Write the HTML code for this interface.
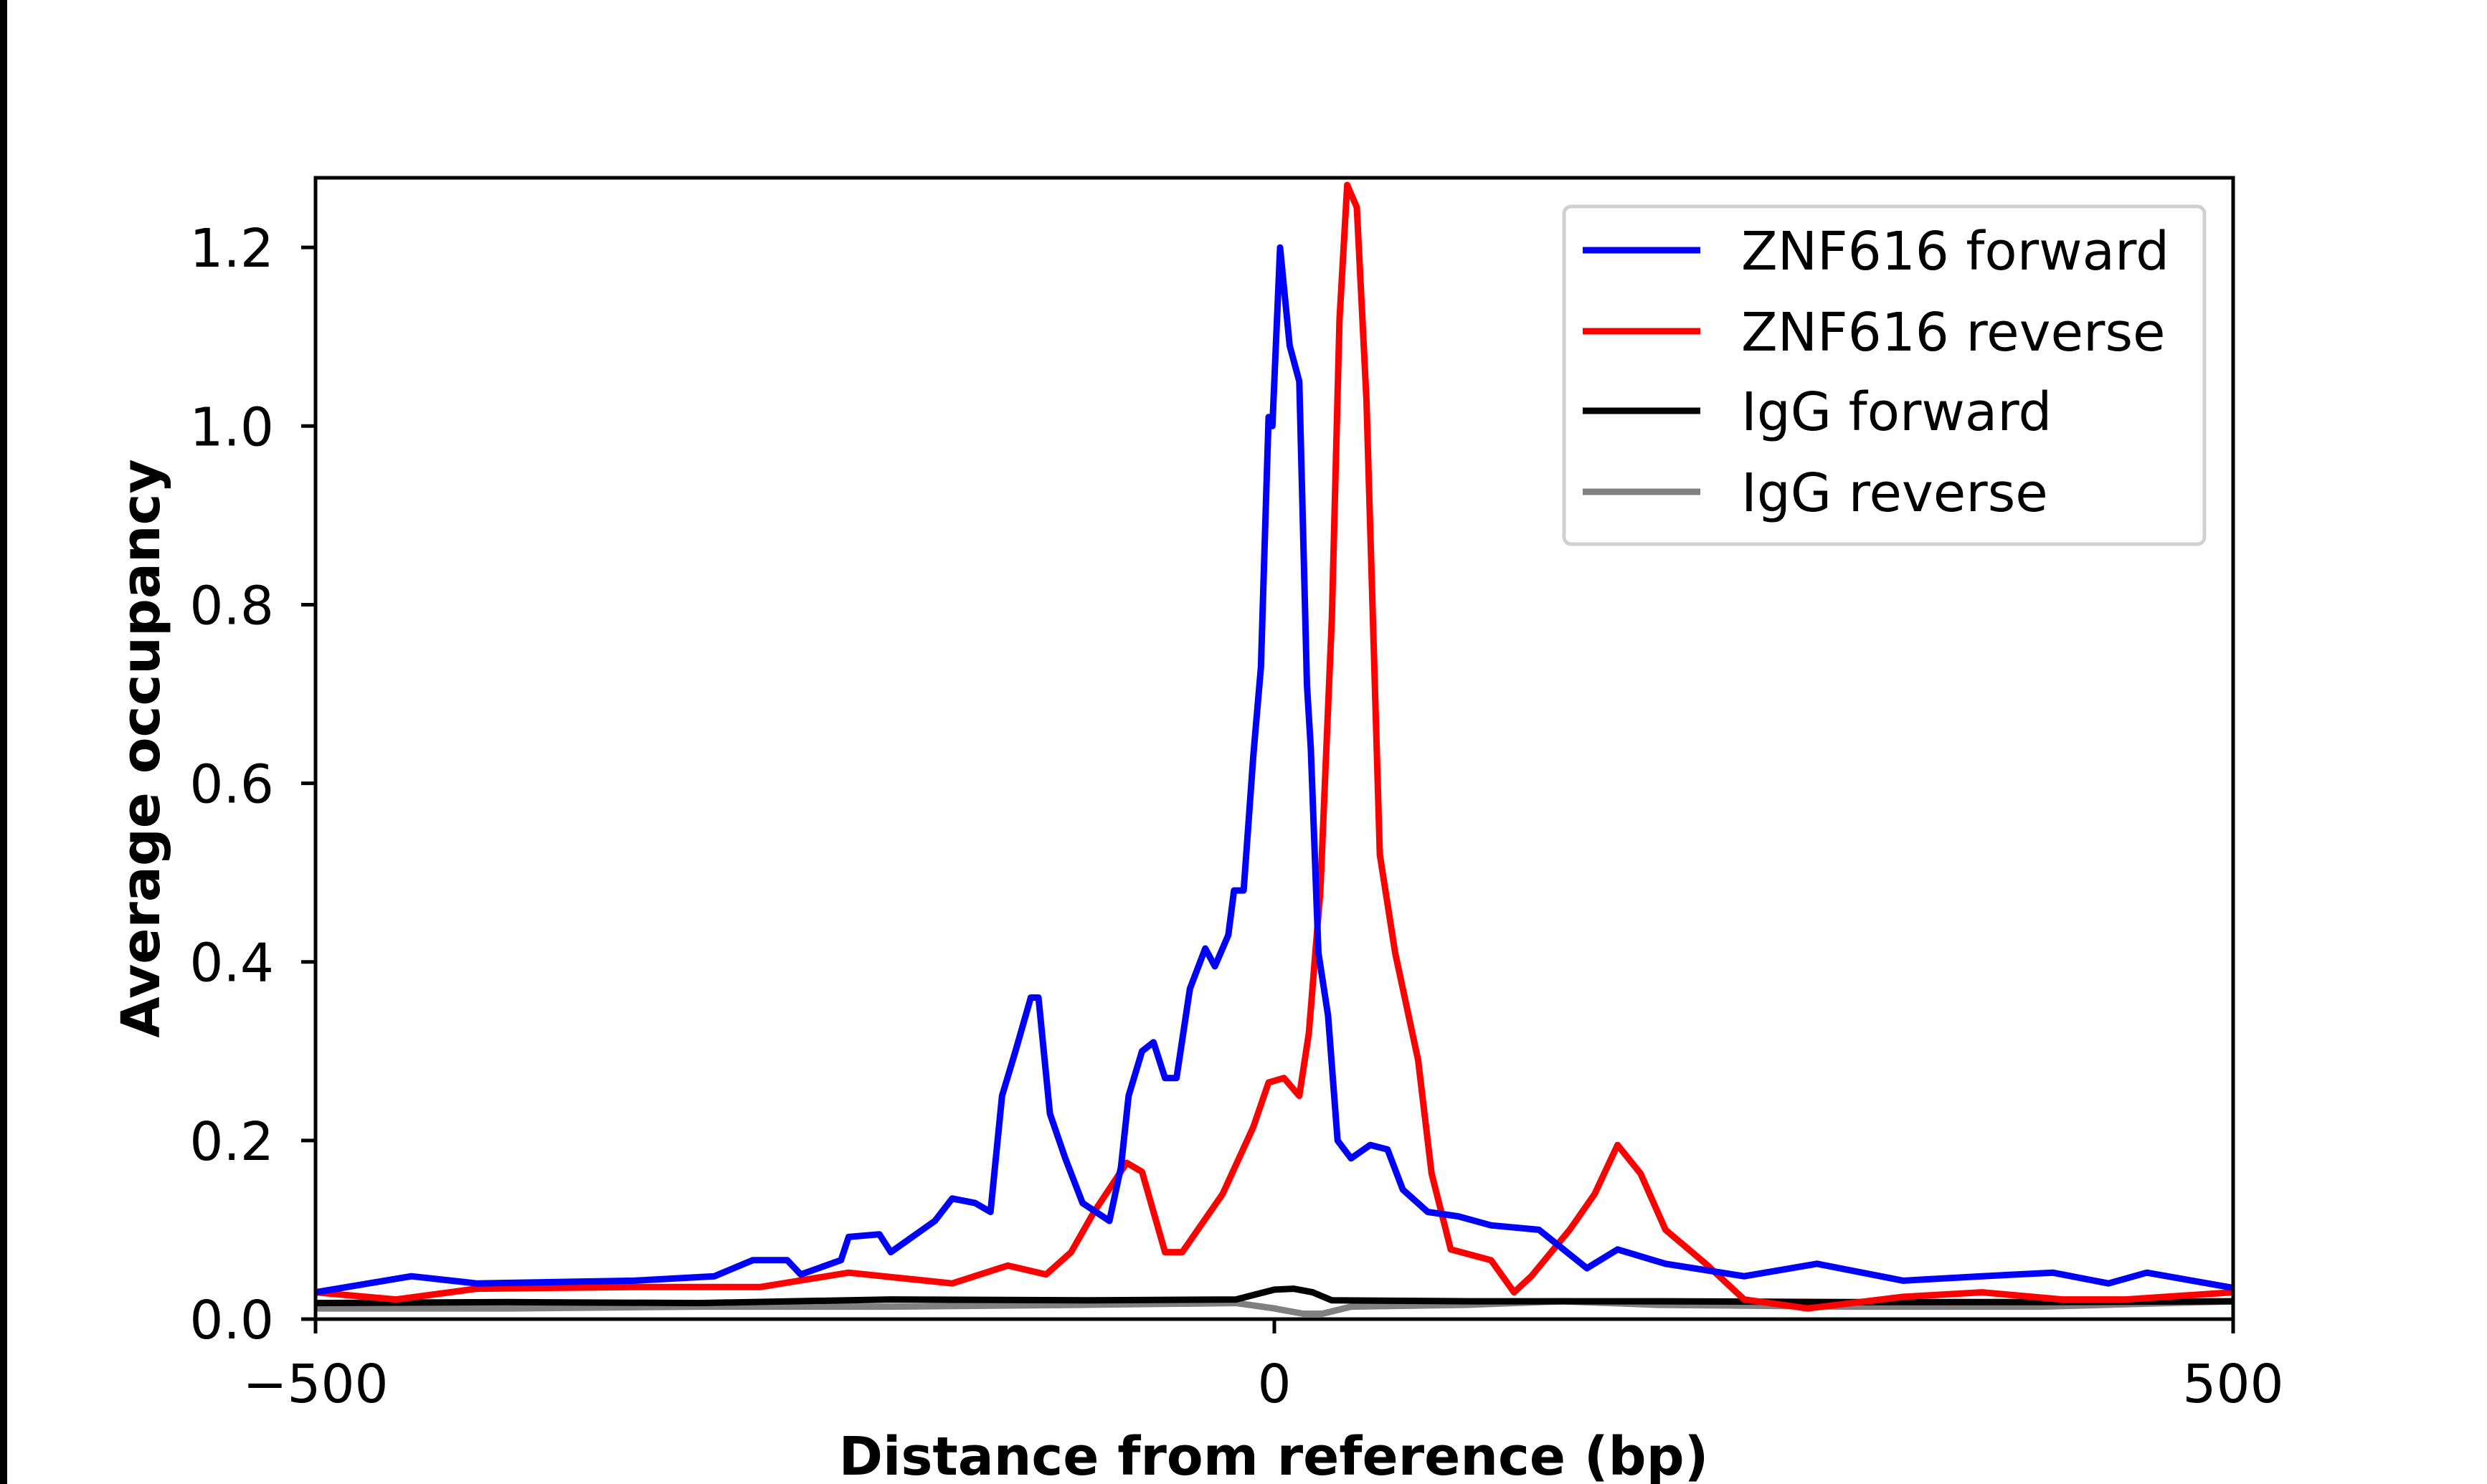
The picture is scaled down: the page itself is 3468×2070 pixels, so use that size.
<!DOCTYPE html>
<html><head><meta charset="utf-8"><style>
html,body{margin:0;padding:0;background:#fff;}
svg{display:block;font-family:"DejaVu Sans","Liberation Sans",sans-serif;}
</style></head><body>
<svg id="chart" width="3468" height="2070" viewBox="0 0 3468 2070">
<rect x="0" y="0" width="3468" height="2070" fill="#fff"/>
<rect x="0" y="0" width="10" height="2070" fill="#000"/>
<g id="plot"></g>
<g id="axes"></g>
<text x="1776" y="2057" font-size="74" font-weight="bold" text-anchor="middle">Distance from reference (bp)</text>
<text transform="translate(222,1044) rotate(-90)" font-size="74" font-weight="bold" text-anchor="middle">Average occupancy</text>
<g id="legend"></g>
</svg>
<script>
const xTicks = [-500, 0, 500];
const xTickLabels = ["\u2212500", "0", "500"];
const yTicks = [0, 0.2, 0.4, 0.6, 0.8, 1.0, 1.2];
const yTickLabels = ["0.0", "0.2", "0.4", "0.6", "0.8", "1.0", "1.2"];
const seriesNames = ["ZNF616 forward", "ZNF616 reverse", "IgG forward", "IgG reverse"];
const seriesColors = ["#0000ff", "#ff0000", "#000000", "#808080"];
const fwdX = [-500,-450,-416,-334,-292,-272,-254,-247,-226,-222,-206,-200,-177,-168,-156,-148,-142,-135,-127,-123,-117,-109,-100,-86,-80,-76,-69,-63,-57,-51,-44,-36,-31,-24,-21,-16,-11,-7,-5,-3,-1,3,8,13,17,19,23,28,33,40,50,59,67,80,96,113,138,163,179,204,245,283,328,369,406,435,455,500];
const fwdY = [0.03,0.048,0.04,0.043,0.048,0.066,0.066,0.05,0.066,0.092,0.095,0.075,0.11,0.135,0.13,0.12,0.25,0.30,0.36,0.36,0.23,0.18,0.13,0.11,0.17,0.25,0.30,0.31,0.27,0.27,0.37,0.415,0.395,0.43,0.48,0.48,0.63,0.73,0.87,1.01,1.0,1.2,1.09,1.05,0.71,0.64,0.41,0.34,0.2,0.18,0.195,0.19,0.145,0.12,0.115,0.105,0.10,0.057,0.078,0.062,0.048,0.062,0.043,0.048,0.052,0.04,0.052,0.035];
const revX = [-500,-458,-416,-334,-268,-222,-168,-139,-119,-106,-94,-77,-69,-57,-48,-27,-11,-3,5,13,18,24,30,34,38,43,48,55,63,70,75,82,92,113,125,134,154,167,179,191,204,225,245,278,328,369,411,444,500];
const revY = [0.03,0.022,0.034,0.036,0.036,0.052,0.04,0.06,0.05,0.075,0.12,0.175,0.165,0.075,0.075,0.14,0.215,0.265,0.27,0.25,0.32,0.48,0.785,1.12,1.27,1.245,1.03,0.52,0.41,0.34,0.29,0.163,0.078,0.066,0.03,0.048,0.1,0.14,0.195,0.163,0.1,0.062,0.022,0.012,0.025,0.03,0.022,0.022,0.03];
const igfX = [-500,-400,-300,-200,-100,-20,0,10,20,30,100,200,300,400,500];
const igfY = [0.018,0.019,0.018,0.022,0.021,0.022,0.033,0.034,0.03,0.021,0.02,0.02,0.019,0.019,0.02];
const igrX = [-500,-400,-300,-200,-100,-20,0,15,25,40,100,150,200,300,400,500];
const igrY = [0.012,0.012,0.014,0.014,0.016,0.018,0.012,0.006,0.006,0.014,0.016,0.02,0.016,0.014,0.014,0.02];

const L=440,R=3114,T=248,B=1840,YMAX=1.278;
function sx(v){return L+(v+500)/1000*(R-L);}
function sy(v){return B-v/YMAX*(B-T);}
const NS="http://www.w3.org/2000/svg";
function mk(tag,attrs,parent){const e=document.createElementNS(NS,tag);for(const k in attrs)e.setAttribute(k,attrs[k]);parent.appendChild(e);return e;}
const plot=document.getElementById('plot'), axes=document.getElementById('axes'), legend=document.getElementById('legend');
mk('clipPath',{id:'clip'},plot);
mk('rect',{x:L,y:T,width:R-L,height:B-T},document.getElementById('clip'));
const allX=[fwdX,revX,igfX,igrX], allY=[fwdY,revY,igfY,igrY], names=['series-znf616-forward','series-znf616-reverse','series-igg-forward','series-igg-reverse'];
for(let s=3;s>=0;s--){
  const xs=allX[s], ys=allY[s];
  let d='';
  for(let i=0;i<xs.length;i++) d+=(i?'L':'M')+sx(xs[i]).toFixed(1)+','+sy(ys[i]).toFixed(1);
  const p=mk('path',{d:d,fill:'none',stroke:seriesColors[s],'stroke-width':9,'stroke-linejoin':'round','clip-path':'url(#clip)'},plot);
  
  
}
const frame=mk('rect',{x:L,y:T,width:R-L,height:B-T,fill:'none',stroke:'#000','stroke-width':5},axes);


xTicks.forEach((v,i)=>{
  const x=sx(v);
  mk('line',{x1:x,y1:B,x2:x,y2:B+20,stroke:'#000','stroke-width':5},axes);
  const t=mk('text',{x:x,y:1956,'font-size':74,'text-anchor':'middle'},axes);
  t.textContent=xTickLabels[i];
  
  
});
yTicks.forEach((v,i)=>{
  const y=sy(v);
  mk('line',{x1:L-20,y1:y,x2:L,y2:y,stroke:'#000','stroke-width':5},axes);
  const t=mk('text',{x:382,y:y+27,'font-size':74,'text-anchor':'end'},axes);
  t.textContent=yTickLabels[i];
  
  
});
const box=mk('rect',{x:2181,y:288,width:893,height:471,rx:10,fill:'#fff','fill-opacity':0.8,stroke:'#d0d0d0','stroke-width':5},legend);


const ly=[349,462,573,686];
seriesNames.forEach((n,i)=>{
  const g=mk('g',{},legend);
  
  
  mk('line',{x1:2207,y1:ly[i],x2:2371,y2:ly[i],stroke:seriesColors[i],'stroke-width':9},g);
  const t=mk('text',{x:2428,y:ly[i]+27,'font-size':74},g);
  t.textContent=n;
});
</script>
</body></html>
